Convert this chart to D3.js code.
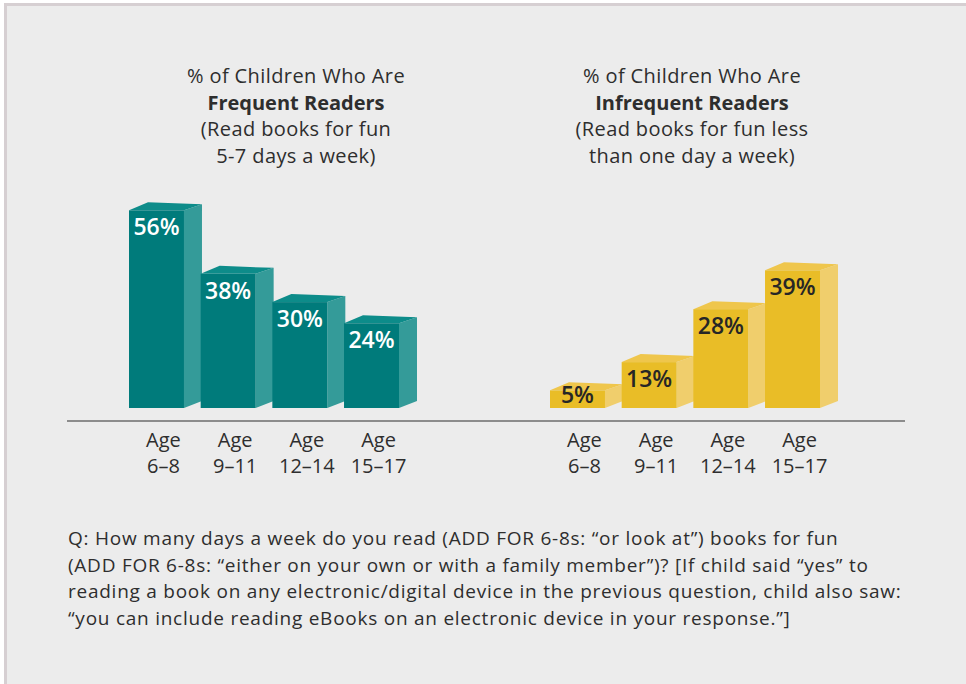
<!DOCTYPE html>
<html>
<head>
<meta charset="utf-8">
<script src="https://cdn.jsdelivr.net/npm/d3@7"></script>
<style>
  html, body { margin: 0; padding: 0; background: #ffffff; }
  svg { display: block; }
  text { font-family: "Open Sans", "Noto Sans", sans-serif; }
</style>
</head>
<body>
<script>
// ---- Data ----
const ageGroups = ["6–8", "9–11", "12–14", "15–17"];
const frequentValues = [56, 38, 30, 24];
const infrequentValues = [5, 13, 28, 39];
const frequentTitle = ["% of Children Who Are", "Frequent Readers", "(Read books for fun", "5-7 days a week)"];
const infrequentTitle = ["% of Children Who Are", "Infrequent Readers", "(Read books for fun less", "than one day a week)"];
const footnoteLines = [
  "Q: How many days a week do you read (ADD FOR 6-8s: \u201cor look at\u201d) books for fun",
  "(ADD FOR 6-8s: \u201ceither on your own or with a family member\u201d)? [If child said \u201cyes\u201d to",
  "reading a book on any electronic/digital device in the previous question, child also saw:",
  "\u201cyou can include reading eBooks on an electronic device in your response.\u201d]"
];

const W = 966, H = 684;
const svg = d3.select("body").append("svg").attr("width", W).attr("height", H);

// background frame
svg.append("rect").attr("x", 0).attr("y", 0).attr("width", W).attr("height", H).attr("fill", "#ffffff");
svg.append("rect").attr("x", 4).attr("y", 3).attr("width", W - 4).attr("height", H - 3).attr("fill", "#d6cfd2");
svg.append("rect").attr("x", 7).attr("y", 6).attr("width", W - 7).attr("height", H - 6).attr("fill", "#ececec");

const baseY = 408;
const y = d3.scaleLinear().domain([0, 100]).range([baseY, baseY - 353]);

const panels = [
  { values: frequentValues, title: frequentTitle, range: [129, 399], titleX: 296,
    front: "#007b7b", side: "#349b99", top: "#0d8c8a", label: "#ffffff" },
  { values: infrequentValues, title: infrequentTitle, range: [550, 820], titleX: 692,
    front: "#e9bd27", side: "#f0ce6c", top: "#efc64c", label: "#262626" }
];

// axis baseline
svg.append("path")
  .attr("d", d3.line()([[67, 421], [905, 421]]))
  .attr("stroke", "#8c8c8c").attr("stroke-width", 2).attr("fill", "none");

panels.forEach(p => {
  const x = d3.scaleBand().domain(ageGroups).range(p.range).paddingInner(0.233).paddingOuter(0);
  const bw = x.bandwidth();
  const data = ageGroups.map((a, i) => ({ age: a, value: p.values[i] }));
  const g = svg.append("g");

  const bars = g.selectAll("g.bar").data(data).join("g").attr("class", "bar");
  // side face
  bars.append("path")
    .attr("d", d => {
      const x1 = x(d.age) + bw, t = y(d.value);
      return d3.line()([[x1, t], [x1 + 18, t - 6], [x1 + 18, baseY - 7], [x1, baseY]]) + "Z";
    })
    .attr("fill", p.side);
  // top face
  bars.append("path")
    .attr("d", d => {
      const x0 = x(d.age), x1 = x0 + bw, t = y(d.value);
      return d3.line()([[x0, t], [x0 + 19, t - 8], [x1 + 18, t - 6], [x1, t]]) + "Z";
    })
    .attr("fill", p.top);
  // front face
  bars.append("rect")
    .attr("x", d => x(d.age)).attr("y", d => y(d.value))
    .attr("width", bw).attr("height", d => baseY - y(d.value))
    .attr("fill", p.front);
  // value labels
  bars.append("text")
    .attr("x", d => x(d.age) + bw / 2)
    .attr("y", d => Math.min(y(d.value) + 25, baseY - 5))
    .attr("text-anchor", "middle")
    .attr("font-size", 23).attr("font-weight", 600)
    .attr("fill", p.label)
    .text(d => d.value + "%");

  // category labels
  const cl = g.selectAll("text.cat").data(ageGroups).join("text").attr("class", "cat")
    .attr("x", d => x(d) + bw / 2 + 7)
    .attr("text-anchor", "middle")
    .attr("font-size", 20).attr("fill", "#2e2e2e");
  cl.append("tspan").attr("x", d => x(d) + bw / 2 + 7).attr("y", 447).text("Age");
  cl.append("tspan").attr("x", d => x(d) + bw / 2 + 7).attr("y", 473).text(d => d);

  // titles
  g.selectAll("text.title").data(p.title).join("text").attr("class", "title")
    .attr("x", p.titleX)
    .attr("y", (d, i) => 83 + i * 26.7)
    .attr("text-anchor", "middle")
    .attr("font-size", 20)
    .attr("letter-spacing", (d, i) => i === 1 ? 0 : 0.4)
    .attr("font-weight", (d, i) => i === 1 ? 700 : 400)
    .attr("fill", "#2e2e2e")
    .text(d => d);
});

// footnote
svg.selectAll("text.foot").data(footnoteLines).join("text").attr("class", "foot")
  .attr("x", 68)
  .attr("y", (d, i) => 545 + i * 26.6)
  .attr("font-size", 19)
  .attr("letter-spacing", 0.75)
  .attr("fill", "#2e2e2e")
  .text(d => d);
</script>
</body>
</html>
